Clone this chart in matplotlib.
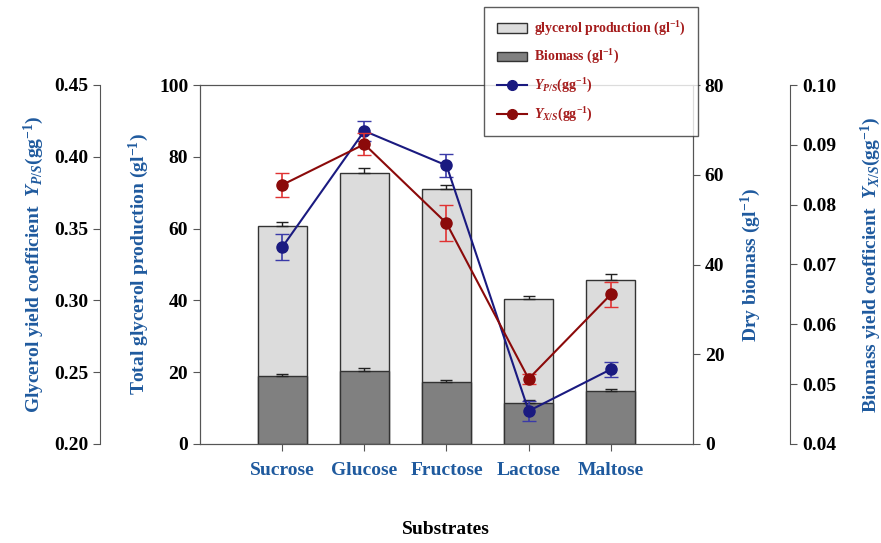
import numpy as np
import matplotlib
matplotlib.use('Agg')
import matplotlib.pyplot as plt
from matplotlib.patches import Patch
from matplotlib.lines import Line2D

plt.rcParams['font.family'] = ['Liberation Serif', 'DejaVu Serif']
plt.rcParams['font.weight'] = 'bold'
plt.rcParams['mathtext.fontset'] = 'custom'
plt.rcParams['mathtext.rm'] = 'Liberation Serif:bold'
plt.rcParams['mathtext.it'] = 'Liberation Serif:italic:bold'
plt.rcParams['mathtext.bf'] = 'Liberation Serif:bold'

substrates = ['Sucrose', 'Glucose', 'Fructose', 'Lactose', 'Maltose']
glycerol_total = [60.7, 75.4, 70.9, 40.3, 45.6]
glycerol_err = [1.2, 1.4, 1.2, 1.0, 1.7]
biomass = [15.1, 16.3, 13.8, 9.2, 11.7]
biomass_err = [0.6, 0.6, 0.5, 0.6, 0.6]
yps = [0.337, 0.418, 0.394, 0.223, 0.252]
yps_err = [0.009, 0.007, 0.008, 0.007, 0.005]
yxs = [0.0833, 0.0901, 0.0769, 0.0509, 0.0650]
yxs_err = [0.0020, 0.0018, 0.0030, 0.0008, 0.0021]

BLUE_TXT = '#1f5a9e'
SPINE = '#555555'
FS = 14

fig = plt.figure(figsize=(8.81, 5.43), dpi=100)
ax = fig.add_axes([200 / 881, 1 - 444 / 543, 493 / 881, 359 / 543])
x = np.arange(len(substrates))

# total glycerol bars
ax.bar(x, glycerol_total, width=0.6, color='#dcdcdc', edgecolor='#333333', linewidth=1.0, zorder=2)
ax.errorbar(x, glycerol_total, yerr=[np.zeros(len(x)), glycerol_err], fmt='none',
            ecolor='#222222', elinewidth=1, capsize=4, zorder=3)
ax.set_xlim(-1, 5)
ax.set_ylim(0, 100)
ax.set_yticks([0, 20, 40, 60, 80, 100])
ax.set_xticks(x)
ax.set_xticklabels(substrates, color=BLUE_TXT, fontsize=FS, fontweight='bold')
ax.set_ylabel('Total glycerol production (gl$^{-1}$)', color=BLUE_TXT, fontsize=FS, fontweight='bold', labelpad=6)
ax.tick_params(axis='y', labelsize=FS, direction='out', length=5, color=SPINE)
ax.tick_params(axis='x', direction='out', length=5, color=SPINE, pad=8)
for s in ax.spines.values():
    s.set_color(SPINE)
fig.text(446 / 881, 1 - 530 / 543, 'Substrates', ha='center', va='center', fontsize=FS, fontweight='bold')

# dry biomass bars
ax_bio = ax.twinx()
ax_bio.bar(x, biomass, width=0.6, color='#808080', edgecolor='#333333', linewidth=1.0, zorder=2)
ax_bio.errorbar(x, biomass, yerr=[np.zeros(len(x)), biomass_err], fmt='none',
                ecolor='#222222', elinewidth=1, capsize=4, zorder=3)
ax_bio.set_ylim(0, 80)
ax_bio.set_yticks([0, 20, 40, 60, 80])
ax_bio.set_ylabel('Dry biomass (gl$^{-1}$)', color=BLUE_TXT, fontsize=FS, fontweight='bold', labelpad=10)
ax_bio.tick_params(axis='y', labelsize=FS, direction='out', length=5, color=SPINE)
for s in ax_bio.spines.values():
    s.set_color(SPINE)

# glycerol yield coefficient (outer left)
ax_yp = ax.twinx()
ax_yp.spines['left'].set_position(('axes', -0.2028))
ax_yp.spines['left'].set_visible(True)
ax_yp.spines['left'].set_color(SPINE)
for k in ['right', 'top', 'bottom']:
    ax_yp.spines[k].set_visible(False)
ax_yp.yaxis.set_ticks_position('left')
ax_yp.yaxis.set_label_position('left')
ax_yp.errorbar(x, yps, yerr=yps_err, color='#1a1a80', ecolor='#3a3aa8', marker='o', markersize=8,
               linewidth=1.5, elinewidth=1.2, capsize=5, zorder=5)
ax_yp.set_ylim(0.20, 0.45)
ax_yp.set_yticks([0.20, 0.25, 0.30, 0.35, 0.40, 0.45])
ax_yp.set_yticklabels(['%.2f' % v for v in [0.20, 0.25, 0.30, 0.35, 0.40, 0.45]])
ax_yp.set_ylabel('Glycerol yield coefficient  $Y_{P/S}$(gg$^{-1}$)', color=BLUE_TXT, fontsize=FS,
                 fontweight='bold', labelpad=6)
ax_yp.tick_params(axis='y', labelsize=FS, direction='out', length=5, color=SPINE)

# biomass yield coefficient (outer right)
ax_yx = ax.twinx()
ax_yx.spines['right'].set_position(('axes', 1.197))
ax_yx.spines['right'].set_color(SPINE)
for k in ['left', 'top', 'bottom']:
    ax_yx.spines[k].set_visible(False)
ax_yx.errorbar(x, yxs, yerr=yxs_err, color='#8b0a0a', ecolor='#e03232', marker='o', markersize=8,
               linewidth=1.5, elinewidth=1.2, capsize=5, zorder=5)
ax_yx.set_ylim(0.04, 0.10)
ax_yx.set_yticks([0.04, 0.05, 0.06, 0.07, 0.08, 0.09, 0.10])
ax_yx.set_yticklabels(['%.2f' % v for v in [0.04, 0.05, 0.06, 0.07, 0.08, 0.09, 0.10]])
ax_yx.set_ylabel('Biomass yield coefficient  $Y_{X/S}$(gg$^{-1}$)', color=BLUE_TXT, fontsize=FS,
                 fontweight='bold', labelpad=16)
ax_yx.tick_params(axis='y', labelsize=FS, direction='out', length=5, color=SPINE)

handles = [
    Patch(facecolor='#dcdcdc', edgecolor='#333333', label='glycerol production (gl$^{-1}$)'),
    Patch(facecolor='#808080', edgecolor='#333333', label='Biomass (gl$^{-1}$)'),
    Line2D([0], [0], color='#1a1a80', marker='o', markersize=7, lw=1.5, label='$Y_{P/S}$(gg$^{-1}$)'),
    Line2D([0], [0], color='#8b0a0a', marker='o', markersize=7, lw=1.5, label='$Y_{X/S}$(gg$^{-1}$)'),
]
leg = fig.legend(handles=handles, loc='upper left', bbox_to_anchor=(484 / 881, 1 - 7 / 543),
                 frameon=True, fancybox=False, edgecolor='#333333', fontsize=10,
                 borderpad=0.9, labelspacing=0.75, handlelength=2.2, handletextpad=0.5,
                 borderaxespad=0)
leg.get_frame().set_linewidth(1.0)
leg.set_zorder(10)
for t in leg.get_texts():
    t.set_color('#a51c1c')
    t.set_fontweight('bold')

fig.savefig('out.png', dpi=100)
